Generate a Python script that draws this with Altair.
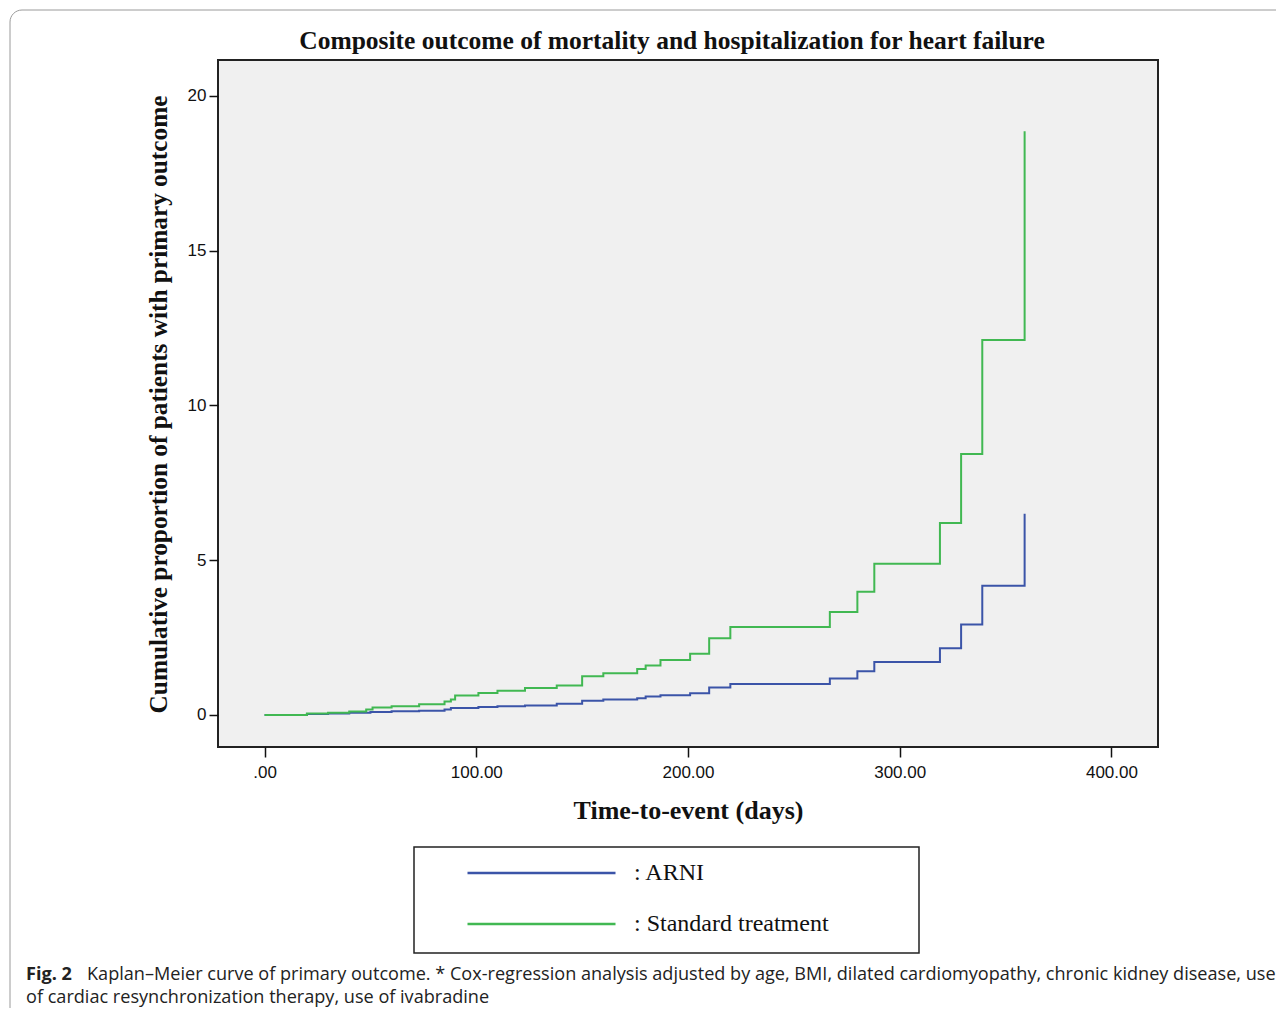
import altair as alt
import pandas as pd

# ---------------- data ----------------
series_names = ["ARNI", "Standard treatment"]

arni_days = [0, 20, 30, 40, 50, 60, 73, 85, 88, 101, 110, 123, 138, 150, 160, 176, 180,
             187, 201, 210, 220, 267, 280, 288, 319, 329, 339, 359]
arni_values = [0, 0.03, 0.05, 0.07, 0.10, 0.12, 0.14, 0.18, 0.23, 0.26, 0.28, 0.31, 0.36,
               0.46, 0.50, 0.54, 0.60, 0.64, 0.70, 0.89, 1.00, 1.18, 1.41, 1.71, 2.16,
               2.92, 4.18, 6.50]

std_days = [0, 20, 30, 40, 48, 51, 60, 73, 85, 88, 90, 101, 110, 123, 138, 150, 160, 176,
            180, 187, 201, 210, 220, 267, 280, 288, 319, 329, 339, 359]
std_values = [0, 0.05, 0.07, 0.11, 0.18, 0.24, 0.28, 0.35, 0.44, 0.50, 0.63, 0.71, 0.78,
              0.87, 0.95, 1.25, 1.35, 1.49, 1.60, 1.78, 1.98, 2.48, 2.84, 3.33, 3.98, 4.89,
              6.20, 8.43, 12.12, 18.86]

x_ticks = [0, 100, 200, 300, 400]
y_ticks = [0, 5, 10, 15, 20]

title_text = "Composite outcome of mortality and hospitalization for heart failure"
x_title = "Time-to-event (days)"
y_title = "Cumulative proportion of patients with primary outcome"
caption_bold = "Fig. 2"
caption_line1 = ("Kaplan\u2013Meier curve of primary outcome. * Cox-regression analysis adjusted by age, "
                 "BMI, dilated cardiomyopathy, chronic kidney disease, use")
caption_line2 = "of cardiac resynchronization therapy, use of ivabradine"

colors = ["#3B54A8", "#41B852"]

# ---------------- table ----------------
df = pd.concat([
    pd.DataFrame({"day": arni_days, "value": arni_values, "group": series_names[0], "k": 0}),
    pd.DataFrame({"day": std_days, "value": std_values, "group": series_names[1], "k": 1}),
], ignore_index=True)

W, H = 940, 687
SERIF = "Liberation Serif"
SANS = "Liberation Sans"
CAP = "Open Sans"

lines = alt.Chart(df).mark_line(interpolate="step-after", strokeWidth=2).encode(
    x=alt.X("day:Q",
            scale=alt.Scale(domain=[-22, 422], nice=False, zero=False),
            axis=alt.Axis(values=x_ticks, title=x_title,
                          labelExpr="datum.value == 0 ? '.00' : format(datum.value, '.2f')",
                          grid=False, domain=False, tickSize=10, tickWidth=1.5,
                          tickColor="#111111", labelFont=SANS, labelFontSize=17,
                          labelColor="#111111", labelPadding=7,
                          titleFont=SERIF, titleFontSize=26, titleFontWeight="bold",
                          titleColor="#111111", titleX=470, titleY=63,
                          titleBaseline="middle", titleAlign="center")),
    y=alt.Y("value:Q",
            scale=alt.Scale(domain=[-1.034, 21.163], nice=False, zero=False),
            axis=alt.Axis(values=y_ticks, title=y_title, format="d",
                          grid=False, domain=False, tickSize=9, tickWidth=1.5,
                          tickColor="#111111", labelFont=SANS, labelFontSize=17,
                          labelColor="#111111", labelPadding=3,
                          titleFont=SERIF, titleFontSize=25.3, titleFontWeight="bold",
                          titleColor="#111111", titleX=-60, titleY=344,
                          titleBaseline="middle", titleAlign="center", titleAngle=270)),
    color=alt.Color("group:N",
                    scale=alt.Scale(domain=series_names, range=colors),
                    legend=alt.Legend(title=None, orient="none", legendX=196, legendY=787,
                                      direction="vertical", symbolType="stroke",
                                      symbolSize=148 * 148, symbolStrokeWidth=2.5,
                                      symbolOffset=39, labelOffset=17, clipHeight=26,
                                      rowPadding=25, padding=13,
                                      labelFont=SERIF, labelFontSize=24,
                                      labelColor="#111111", labelLimit=800,
                                      labelExpr="': ' + datum.label")),
    order=alt.Order("k:Q"),
)

# legend frame box (decoration around the legend)
legend_box = alt.Chart(pd.DataFrame({"f": [1]})).mark_rect(
    fill="transparent", stroke="#222222", strokeWidth=1.5).encode(
    x=alt.value(196), x2=alt.value(701), y=alt.value(787), y2=alt.value(893))

title_mark = alt.Chart(pd.DataFrame({"t": [title_text]})).mark_text(
    font=SERIF, fontSize=25.5, fontWeight="bold", color="#111111",
    align="center", baseline="middle").encode(
    x=alt.value(454), y=alt.value(-19), text="t:N")

cap_bold = alt.Chart(pd.DataFrame({"t": [caption_bold]})).mark_text(
    font=CAP, fontSize=18.1, fontWeight="bold", color="#222222",
    align="left", baseline="middle").encode(
    x=alt.value(-192), y=alt.value(915), text="t:N")

cap1 = alt.Chart(pd.DataFrame({"t": [caption_line1]})).mark_text(
    font=CAP, fontSize=18.1, color="#222222",
    align="left", baseline="middle").encode(
    x=alt.value(-131), y=alt.value(915), text="t:N")

cap2 = alt.Chart(pd.DataFrame({"t": [caption_line2]})).mark_text(
    font=CAP, fontSize=18.1, color="#222222",
    align="left", baseline="middle").encode(
    x=alt.value(-192), y=alt.value(938), text="t:N")

frame = alt.Chart(pd.DataFrame({"f": [1]})).mark_rect(
    fill="transparent", stroke="#9a9a9a", strokeWidth=1, cornerRadius=12).encode(
    x=alt.value(-208), x2=alt.value(1100), y=alt.value(-50), y2=alt.value(1000))

chart = alt.layer(frame, legend_box, lines, title_mark, cap_bold, cap1, cap2).properties(
    width=W, height=H,
    autosize=alt.AutoSizeParams(type="none"),
    padding={"left": 210, "top": 52, "right": 118, "bottom": 261},
    background="white",
).configure_view(
    fill="#F0F0F0", stroke="#222222", strokeWidth=2,
)

chart.save("out.html", embed_options={"renderer": "svg", "actions": False})
